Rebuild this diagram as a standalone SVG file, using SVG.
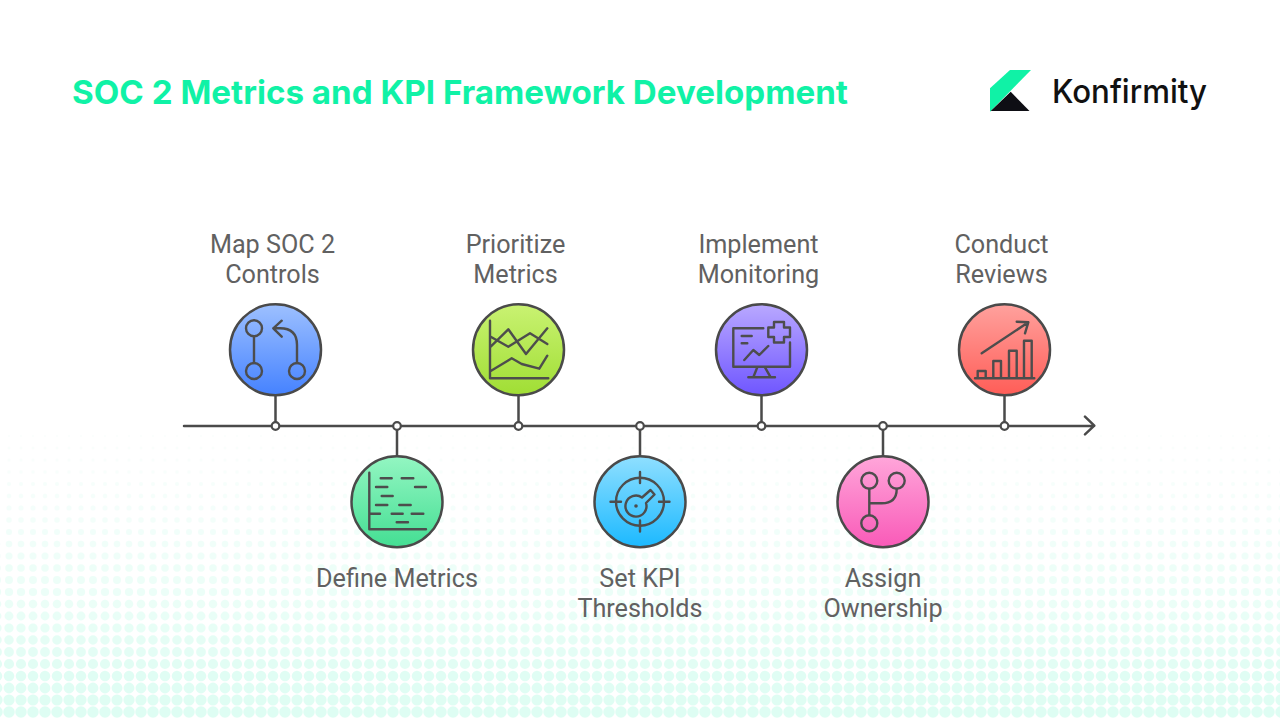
<svg xmlns="http://www.w3.org/2000/svg" width="1280" height="720" viewBox="0 0 1280 720">
<style>
.lbl{font-family:"Roboto","Liberation Sans",sans-serif;font-size:25.2px;fill:#616161;text-anchor:middle}
.ttl{font-family:"Inter","Liberation Sans",sans-serif;font-size:33px;font-weight:700;fill:#10f2a6}
.ln{fill:none;stroke:#4a4a4a;stroke-width:2.5;stroke-linecap:round;stroke-linejoin:round}
.ic{fill:none;stroke:#4d4d4d;stroke-width:2.4;stroke-linecap:round;stroke-linejoin:round}
.disc{stroke:#4a4a4a;stroke-width:2.5}
.dot{fill:#fff;stroke:#4a4a4a;stroke-width:2.2}
.d{stroke:#0df5a8;stroke-linecap:round;stroke-dasharray:0 12}
</style>
<defs>
<linearGradient id="g1" x1="0" y1="0" x2="0" y2="1"><stop offset="0" stop-color="#9dc0ff"/><stop offset="1" stop-color="#4582ff"/></linearGradient>
<linearGradient id="g2" x1="0" y1="0" x2="0" y2="1"><stop offset="0" stop-color="#93f6c2"/><stop offset="1" stop-color="#44de93"/></linearGradient>
<linearGradient id="g3" x1="0" y1="0" x2="0" y2="1"><stop offset="0" stop-color="#c9f272"/><stop offset="1" stop-color="#a0de34"/></linearGradient>
<linearGradient id="g4" x1="0" y1="0" x2="0" y2="1"><stop offset="0" stop-color="#8fdfff"/><stop offset="1" stop-color="#1cb9ff"/></linearGradient>
<linearGradient id="g5" x1="0" y1="0" x2="0" y2="1"><stop offset="0" stop-color="#b9a8ff"/><stop offset="1" stop-color="#6f56ff"/></linearGradient>
<linearGradient id="g6" x1="0" y1="0" x2="0" y2="1"><stop offset="0" stop-color="#ffa6da"/><stop offset="1" stop-color="#f95ab8"/></linearGradient>
<linearGradient id="g7" x1="0" y1="0" x2="0" y2="1"><stop offset="0" stop-color="#ffa19d"/><stop offset="1" stop-color="#ff5d57"/></linearGradient>
</defs>
<rect width="1280" height="720" fill="#fff"/>
<g id="background-dots">
<line class="d" x1="-3" x2="1290" y1="436" y2="436" stroke-width="2" opacity=".015"/>
<line class="d" x1="-3" x2="1290" y1="448" y2="448" stroke-width="2.5" opacity=".018"/>
<line class="d" x1="-3" x2="1290" y1="460" y2="460" stroke-width="3" opacity=".02"/>
<line class="d" x1="-3" x2="1290" y1="472" y2="472" stroke-width="3.5" opacity=".025"/>
<line class="d" x1="-3" x2="1290" y1="484" y2="484" stroke-width="4" opacity=".03"/>
<line class="d" x1="-3" x2="1290" y1="496" y2="496" stroke-width="4.5" opacity=".035"/>
<line class="d" x1="-3" x2="1290" y1="508" y2="508" stroke-width="5" opacity=".04"/>
<line class="d" x1="-3" x2="1290" y1="520" y2="520" stroke-width="5.5" opacity=".045"/>
<line class="d" x1="-3" x2="1290" y1="532" y2="532" stroke-width="6" opacity=".05"/>
<line class="d" x1="-3" x2="1290" y1="544" y2="544" stroke-width="6.5" opacity=".055"/>
<line class="d" x1="-3" x2="1290" y1="556" y2="556" stroke-width="7" opacity=".06"/>
<line class="d" x1="-3" x2="1290" y1="568" y2="568" stroke-width="7.5" opacity=".065"/>
<line class="d" x1="-3" x2="1290" y1="580" y2="580" stroke-width="7.9" opacity=".07"/>
<line class="d" x1="-3" x2="1290" y1="592" y2="592" stroke-width="8.2" opacity=".075"/>
<line class="d" x1="-3" x2="1290" y1="604" y2="604" stroke-width="8.5" opacity=".08"/>
<line class="d" x1="-3" x2="1290" y1="616" y2="616" stroke-width="8.8" opacity=".087"/>
<line class="d" x1="-3" x2="1290" y1="628" y2="628" stroke-width="9.2" opacity=".093"/>
<line class="d" x1="-3" x2="1290" y1="640" y2="640" stroke-width="9.5" opacity=".1"/>
<line class="d" x1="-3" x2="1290" y1="652" y2="652" stroke-width="9.8" opacity=".107"/>
<line class="d" x1="-3" x2="1290" y1="664" y2="664" stroke-width="10.2" opacity=".113"/>
<line class="d" x1="-3" x2="1290" y1="676" y2="676" stroke-width="10.5" opacity=".12"/>
<line class="d" x1="-3" x2="1290" y1="688" y2="688" stroke-width="10.8" opacity=".123"/>
<line class="d" x1="-3" x2="1290" y1="700" y2="700" stroke-width="11.2" opacity=".127"/>
<line class="d" x1="-3" x2="1290" y1="712" y2="712" stroke-width="11.5" opacity=".13"/>
</g>
<text id="title" class="ttl" x="72" y="104" textLength="776" lengthAdjust="spacingAndGlyphs">SOC 2 Metrics and KPI Framework Development</text>
<g id="logo">
<polygon points="990,88.3 1010,70 1031,70 990,111.7" fill="#10f2a6"/>
<polygon points="1010.7,91.7 1029.5,111 990.7,111" fill="#0e0e14"/>
<text x="1052" y="103" font-family="Inter,'Liberation Sans',sans-serif" font-size="33" font-weight="500" fill="#111" textLength="155" lengthAdjust="spacingAndGlyphs">Konfirmity</text>
</g>
<g id="connectors">
<path class="ln" d="M184 426H1094M1085 416.7L1094.3 425.7L1085 434.3"/>
<path class="ln" d="M275.500 395V426M397 426V457M518.500 395V426M640 426V457M761.500 395V426M883 426V457M1004.500 395V426"/>
<circle class="dot" cx="275.500" cy="426" r="3.800"/><circle class="dot" cx="397" cy="426" r="3.800"/><circle class="dot" cx="518.500" cy="426" r="3.800"/><circle class="dot" cx="640" cy="426" r="3.800"/><circle class="dot" cx="761.500" cy="426" r="3.800"/><circle class="dot" cx="883" cy="426" r="3.800"/><circle class="dot" cx="1004.500" cy="426" r="3.800"/>
</g>
<g id="node-map">
<circle class="disc" cx="275.500" cy="349.800" r="45.500" fill="url(#g1)"/>
<g class="ic"><circle cx="254" cy="328.300" r="8"/><circle cx="254" cy="371" r="8"/><circle cx="297" cy="371" r="8"/><path d="M254 336.300V363M297 363V345Q297 328.300 280 328.300H273.300M281.700 320.700L273.300 328.300L281.700 336.700"/></g>
<text class="lbl" x="272.500" y="253">Map SOC 2</text><text class="lbl" x="272.500" y="283">Controls</text>
</g>
<g id="node-define">
<circle class="disc" cx="397" cy="501.800" r="45.500" fill="url(#g2)"/>
<g class="ic"><path d="M369.300 472.700V529.300H426M380.700 478.300H391.700M401.700 478.300H413.300M376 487H387.300M415 487H426M381.700 496H392.700M376 505H387.300M399.300 505H410.700M370 513.700H380M391.700 513.700H402.700M411.700 513.700H423.300M396.700 522.300H408"/></g>
<text class="lbl" x="397" y="587">Define Metrics</text>
</g>
<g id="node-prioritize">
<circle class="disc" cx="518.500" cy="349.800" r="45.500" fill="url(#g3)"/>
<g class="ic"><path d="M490 320.700V378.300H548.300M490.700 346.700L508.300 329.300L526 354L547.300 328.300M490.700 336.700L508.300 346.700L530 333.300L547.300 344M490.700 371L511.700 358.300L521.700 364L539.300 368.700L547.300 355.700"/></g>
<text class="lbl" x="515.500" y="253">Prioritize</text><text class="lbl" x="515.500" y="283">Metrics</text>
</g>
<g id="node-thresholds">
<circle class="disc" cx="640" cy="501.800" r="45.500" fill="url(#g4)"/>
<g class="ic"><circle cx="640" cy="501.700" r="24"/><path d="M640 472V483M640 520.500V531.500M610.500 501.700H621M659 501.700H669.500M642 497.500L650.500 490L654.500 494.500L646 503A10.500 10.500 0 1 1 642 497.500Z"/></g>
<circle cx="636" cy="506" r="1.800" fill="#4d4d4d"/>
<text class="lbl" x="640" y="587">Set KPI</text><text class="lbl" x="640" y="617">Thresholds</text>
</g>
<g id="node-monitoring">
<circle class="disc" cx="761.500" cy="349.800" r="45.500" fill="url(#g5)"/>
<g class="ic"><path d="M763.300 328.300H733.300V366.700H790V342.500M741.700 336H751.700M741.700 343.300H747.300M744.300 360L753.300 350L759.300 355L768.300 346M757.300 367.300L753.300 377.300M765 367.300L770.700 377.300M748.300 377.300H775M774 326V322H784V327.500H790V337H784V342.500H774V337H768.300V327.500H774Z"/></g>
<text class="lbl" x="758.500" y="253">Implement</text><text class="lbl" x="758.500" y="283">Monitoring</text>
</g>
<g id="node-ownership">
<circle class="disc" cx="883" cy="501.800" r="45.500" fill="url(#g6)"/>
<g class="ic"><circle cx="869.300" cy="480.700" r="8"/><circle cx="896.700" cy="480.700" r="8"/><circle cx="869.300" cy="523.300" r="8"/><path d="M869.300 489V515M869.300 503.300H881.700Q896.700 503.300 896.700 489"/></g>
<text class="lbl" x="883" y="587">Assign</text><text class="lbl" x="883" y="617">Ownership</text>
</g>
<g id="node-reviews">
<circle class="disc" cx="1004.500" cy="349.800" r="45.500" fill="url(#g7)"/>
<g class="ic"><path d="M975 378.300H1034.300M977.700 378V371H985.700V378M993.300 378V361H1001V378M1009 378V350.700H1016.700V378M1024 378V340.700H1031.700V378M981.700 353.300L1028.300 322.300M1016.700 321.700L1028.300 322.300L1025 333.300"/></g>
<text class="lbl" x="1001.500" y="253">Conduct</text><text class="lbl" x="1001.500" y="283">Reviews</text>
</g>
</svg>
